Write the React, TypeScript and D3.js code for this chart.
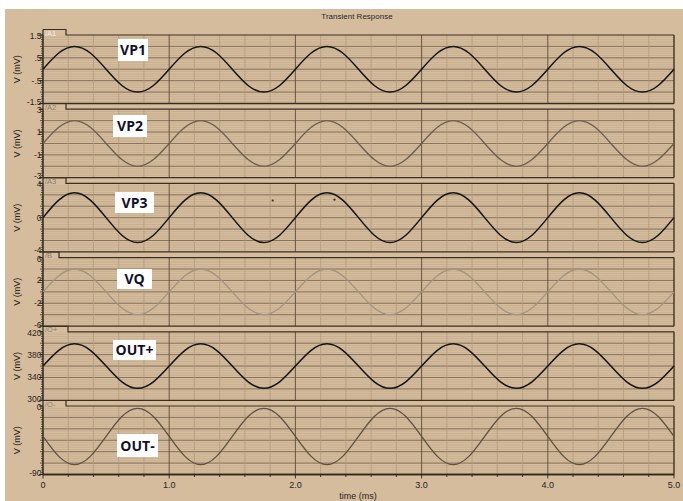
import React from "react";
import * as d3 from "d3";

// ---------- data ----------
const timeMs = [0, 0.125, 0.25, 0.375, 0.5, 0.625, 0.75, 0.875, 1, 1.125, 1.25, 1.375, 1.5, 1.625, 1.75, 1.875, 2, 2.125, 2.25, 2.375, 2.5, 2.625, 2.75, 2.875, 3, 3.125, 3.25, 3.375, 3.5, 3.625, 3.75, 3.875, 4, 4.125, 4.25, 4.375, 4.5, 4.625, 4.75, 4.875, 5];

const vp1 = [0, 0.71, 1, 0.71, 0, -0.71, -1, -0.71, 0, 0.71, 1, 0.71, 0, -0.71, -1, -0.71, 0, 0.71, 1, 0.71, 0, -0.71, -1, -0.71, 0, 0.71, 1, 0.71, 0, -0.71, -1, -0.71, 0, 0.71, 1, 0.71, 0, -0.71, -1, -0.71, 0];
const vp2 = [0, 1.41, 2, 1.41, 0, -1.41, -2, -1.41, 0, 1.41, 2, 1.41, 0, -1.41, -2, -1.41, 0, 1.41, 2, 1.41, 0, -1.41, -2, -1.41, 0, 1.41, 2, 1.41, 0, -1.41, -2, -1.41, 0, 1.41, 2, 1.41, 0, -1.41, -2, -1.41, 0];
const vp3 = [0, 2.05, 2.9, 2.05, 0, -2.05, -2.9, -2.05, 0, 2.05, 2.9, 2.05, 0, -2.05, -2.9, -2.05, 0, 2.05, 2.9, 2.05, 0, -2.05, -2.9, -2.05, 0, 2.05, 2.9, 2.05, 0, -2.05, -2.9, -2.05, 0, 2.05, 2.9, 2.05, 0, -2.05, -2.9, -2.05, 0];
const vq = [0, 2.83, 4, 2.83, 0, -2.83, -4, -2.83, 0, 2.83, 4, 2.83, 0, -2.83, -4, -2.83, 0, 2.83, 4, 2.83, 0, -2.83, -4, -2.83, 0, 2.83, 4, 2.83, 0, -2.83, -4, -2.83, 0, 2.83, 4, 2.83, 0, -2.83, -4, -2.83, 0];
const outPlus = [360, 387.6, 399, 387.6, 360, 332.4, 321, 332.4, 360, 387.6, 399, 387.6, 360, 332.4, 321, 332.4, 360, 387.6, 399, 387.6, 360, 332.4, 321, 332.4, 360, 387.6, 399, 387.6, 360, 332.4, 321, 332.4, 360, 387.6, 399, 387.6, 360, 332.4, 321, 332.4, 360];
const outMinus = [-40, -66.2, -77, -66.2, -40, -13.8, -3, -13.8, -40, -66.2, -77, -66.2, -40, -13.8, -3, -13.8, -40, -66.2, -77, -66.2, -40, -13.8, -3, -13.8, -40, -66.2, -77, -66.2, -40, -13.8, -3, -13.8, -40, -66.2, -77, -66.2, -40, -13.8, -3, -13.8, -40];

// stray points seen on the VP3 trace
const vp3DotTimes = [1.82, 2.31];
const vp3DotValues = [2.0, 2.1];

const seriesNames = ["VP1", "VP2", "VP3", "VQ", "OUT+", "OUT-"];
const tabNames = ["/A1", "/A2", "/A3", "/B", "/O+", "/O-"];
const seriesValues = [vp1, vp2, vp3, vq, outPlus, outMinus];
const yDomains: [number, number][] = [[-1.5, 1.5], [-3, 3], [-4, 4], [-6, 6], [300, 420], [-90, 0]];
const yTicks = [[1.5, 0.5, -0.5, -1.5], [3, 1, -1, -3], [4, 0, -4], [6, 2, -2, -6], [420, 380, 340, 300], [0, -90]];
const yTickLabels = [["1.5", ".5", "-.5", "-1.5"], ["3", "1", "-1", "-3"], ["4", "0", "-4"], ["6", "2", "-2", "-6"], ["420", "380", "340", "300"], ["0", "-90"]];
const xTicks = [0, 1, 2, 3, 4, 5];
const xTickLabels = ["0", "1.0", "2.0", "3.0", "4.0", "5.0"];
const title = "Transient Response";
const xTitle = "time (ms)";
const yTitle = "V (mV)";

// ---------- styles ----------
const lineColors = ["#141414", "#6c5e4e", "#141414", "#a39480", "#141414", "#5f5142"];
const lineWidths = [1.5, 1.3, 1.5, 1.3, 1.5, 1.3];
const tabWidths = [23, 23, 23, 16, 25, 23];
const labelBoxes = [
  { x: 118, y: 39, w: 30, h: 22 },
  { x: 113, y: 115, w: 34, h: 22 },
  { x: 115, y: 192, w: 39, h: 21 },
  { x: 117, y: 269, w: 35, h: 20 },
  { x: 113, y: 340, w: 43, h: 20 },
  { x: 117, y: 434, w: 41, h: 23 },
];

const BG = "#d4bc9d";
const LEFT = 43;
const RIGHT = 674;
const TOP0 = 35;
const STEP = 74.2;
const PH = 68.5;

export default function App() {
  const x = d3.scaleLinear().domain([0, 5]).range([LEFT, RIGHT]);
  const minorX = d3.range(0, 5.0001, 0.2);
  const font = "'Liberation Sans', Arial, sans-serif";

  return (
    <svg
      width={683}
      height={501}
      style={{ position: "fixed", left: 0, top: 0, background: "#ffffff" }}
    >
      <rect x={5} y={9} width={678} height={492} fill={BG} />
      <text x={357} y={19} textAnchor="middle" fontFamily={font} fontSize={8} fill="#2a2a2a">
        {title}
      </text>

      {seriesValues.map((vals, k) => {
        const y0 = TOP0 + STEP * k;
        const y1 = y0 + PH;
        const y = d3.scaleLinear().domain(yDomains[k]).range([y1, y0]);
        const line = d3
          .line<number>()
          .x((_, i) => x(timeMs[i]))
          .y((v) => y(v))
          .curve(d3.curveNatural);
        const tabEnd = LEFT + tabWidths[k];
        const minorYs = d3.range(1, 30).map((i) => y0 + (i * PH) / 30);
        const majorYs = d3.range(1, 6).map((i) => y0 + (i * PH) / 6);
        const box = labelBoxes[k];
        const nT = yTicks[k].length;
        return (
          <g key={k}>
            {/* fine horizontal texture */}
            {minorYs.map((yy, i) => (
              <line key={"mh" + i} x1={LEFT} x2={RIGHT} y1={yy} y2={yy} stroke="#b9a082" strokeWidth={0.7} opacity={0.6} />
            ))}
            {majorYs.map((yy, i) => (
              <line key={"Mh" + i} x1={LEFT} x2={RIGHT} y1={yy} y2={yy} stroke="#6d5a45" strokeWidth={0.9} opacity={0.8} />
            ))}
            {minorX.map((t, i) => (
              <line
                key={"v" + i}
                x1={x(t)}
                x2={x(t)}
                y1={y0}
                y2={y1}
                stroke={Math.abs(t - Math.round(t)) < 1e-6 ? "#5d4b39" : "#b29878"}
                strokeWidth={Math.abs(t - Math.round(t)) < 1e-6 ? 0.9 : 0.7}
              />
            ))}
            {/* tab */}
            <rect x={LEFT} y={y0 - 5.5} width={tabWidths[k]} height={5.5} fill={BG} />
            <path
              d={`M${LEFT},${y0 - 5.5} L${tabEnd},${y0 - 5.5} L${tabEnd},${y0} L${RIGHT},${y0}`}
              fill="none"
              stroke="#3a2e23"
              strokeWidth={1.2}
            />
            <text x={LEFT + 2} y={y0 + 0.5} fontFamily={font} fontSize={7.5} fill={k === 0 ? "#f4ece0" : "#8f7f6b"}>
              {tabNames[k]}
            </text>
            {/* frame */}
            <line x1={LEFT} x2={RIGHT} y1={y1} y2={y1} stroke="#3a2e23" strokeWidth={1.3} />
            <line x1={RIGHT} x2={RIGHT} y1={y0} y2={y1} stroke="#3a2e23" strokeWidth={1} />
            <line x1={LEFT} x2={LEFT} y1={y0 - 5.5} y2={y1} stroke="#2d241b" strokeWidth={1.2} />
            {/* left axis ticks */}
            {d3.range(0, 31).map((i) => (
              <line
                key={"lt" + i}
                x1={LEFT - (i % 5 === 0 ? 3 : 2)}
                x2={LEFT}
                y1={y0 + (i * PH) / 30}
                y2={y0 + (i * PH) / 30}
                stroke="#2d241b"
                strokeWidth={0.7}
              />
            ))}
            {yTicks[k].map((t, i) => (
              <g key={"yt" + i}>
                <line x1={LEFT - 4} x2={LEFT} y1={y(t)} y2={y(t)} stroke="#2d241b" strokeWidth={0.9} />
                <text
                  x={LEFT - 1.5}
                  y={y(t) + (i === 0 ? 4 : i === nT - 1 ? 1.5 : 3)}
                  textAnchor="end"
                  fontFamily={font}
                  fontSize={8.5}
                  fill="#2a2420"
                >
                  {yTickLabels[k][i]}
                </text>
              </g>
            ))}
            <text
              transform={`translate(20,${(y0 + y1) / 2}) rotate(-90)`}
              textAnchor="middle"
              fontFamily={font}
              fontSize={9}
              fill="#2a2420"
            >
              {yTitle}
            </text>
            {/* trace */}
            <path d={line(vals) || ""} fill="none" stroke={lineColors[k]} strokeWidth={lineWidths[k]} />
            {k === 2 &&
              vp3DotTimes.map((t, i) => (
                <circle key={"d" + i} cx={x(t)} cy={y(vp3DotValues[i])} r={1.1} fill="#3a2e23" />
              ))}
            {/* label box */}
            <rect x={box.x} y={box.y} width={box.w} height={box.h} fill="#ffffff" />
            <text
              x={box.x + box.w / 2}
              y={box.y + box.h / 2 + 5}
              textAnchor="middle"
              fontFamily="'Open Sans', 'Liberation Sans', sans-serif"
              fontWeight={700}
              fontSize={14}
              fill="#10102a"
            >
              {seriesNames[k]}
            </text>
          </g>
        );
      })}

      {/* x axis */}
      {(() => {
        const yb = TOP0 + STEP * 5 + PH;
        return (
          <g>
            <line x1={LEFT} x2={RIGHT} y1={yb} y2={yb} stroke="#2d241b" strokeWidth={1.5} />
            {minorX.map((t, i) => (
              <line
                key={"xt" + i}
                x1={x(t)}
                x2={x(t)}
                y1={yb}
                y2={yb + (Math.abs(t - Math.round(t)) < 1e-6 ? 4 : 2.5)}
                stroke="#2d241b"
                strokeWidth={0.9}
              />
            ))}
            {xTicks.map((t, i) => (
              <text key={"xl" + i} x={x(t)} y={yb + 13} textAnchor="middle" fontFamily={font} fontSize={9} fill="#2a2420">
                {xTickLabels[i]}
              </text>
            ))}
            <text x={358} y={yb + 24} textAnchor="middle" fontFamily={font} fontSize={9} fill="#2a2420">
              {xTitle}
            </text>
          </g>
        );
      })()}
    </svg>
  );
}
